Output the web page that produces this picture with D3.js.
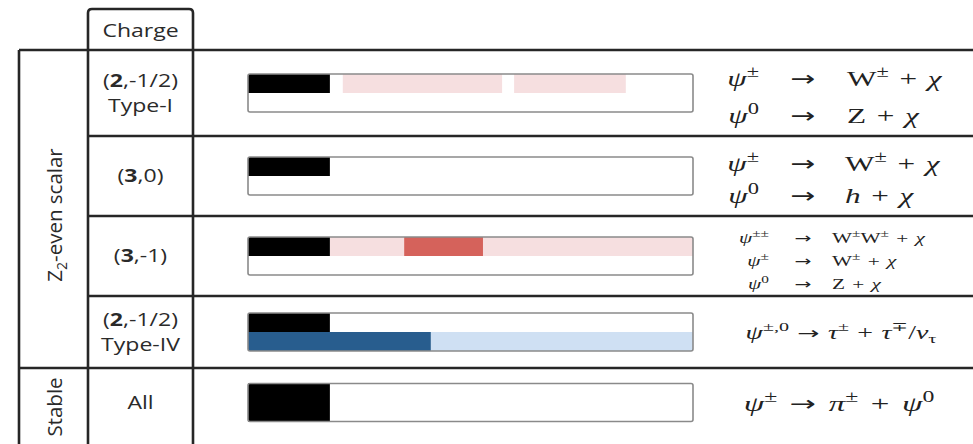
<!DOCTYPE html>
<html>
<head>
<meta charset="utf-8">
<script src="https://cdn.jsdelivr.net/npm/d3@7"></script>
<style>
  html, body { margin: 0; padding: 0; background: #fff; }
  svg { display: block; }
</style>
</head>
<body>
<svg id="chart" width="973" height="444"></svg>
<script>
// ---------------- DATA ----------------
const categories = ["(2,-1/2) Type-I", "(3,0)", "(3,-1)", "(2,-1/2) Type-IV", "All"];
const chargeLines = [
  [["(", "2", ",-1/2)"], ["", "", "Type-I"]],
  [["(", "3", ",0)"]],
  [["(", "3", ",-1)"]],
  [["(", "2", ",-1/2)"], ["", "", "Type-IV"]],
  [["", "", "All"]]
];
const groupNames = ["Z2-even scalar", "Stable"];
const groupFirstRow = [0, 4];
const groupLastRow = [3, 4];

// common lower limit (black bar), on a 0–100 scale
const lowerLimit = [18.4, 18.4, 18.4, 18.4, 18.4];
const lowerLane = ["top", "top", "top", "top", "full"];

// coloured exclusion segments
const segRow  = [0, 0, 2, 2, 3, 3];
const segLane = ["top", "top", "top", "top", "bottom", "bottom"];
const segFrom = [21.3, 59.8, 18.4, 35.1, 0, 41.1];
const segTo   = [57.1, 84.9, 100, 52.8, 41.1, 100];
const segKind = ["redWeak", "redWeak", "redWeak", "redStrong", "blueStrong", "blueWeak"];

// decay channels: per row, list of lines [lhsTokens, rhsTokens] (or single line)
const decays = [
  [[[["ψ","i"],["±","sup"]], [["W",""],["±","sup"],["+","op"],["χ","i"]]],
   [[["ψ","i"],["0","sup"]], [["Z",""],["+","op"],["χ","i"]]]],
  [[[["ψ","i"],["±","sup"]], [["W",""],["±","sup"],["+","op"],["χ","i"]]],
   [[["ψ","i"],["0","sup"]], [["h","i"],["+","op"],["χ","i"]]]],
  [[[["ψ","i"],["±±","sup"]], [["W",""],["±","sup"],["W",""],["±","sup"],["+","op"],["χ","i"]]],
   [[["ψ","i"],["±","sup"]], [["W",""],["±","sup"],["+","op"],["χ","i"]]],
   [[["ψ","i"],["0","sup"]], [["Z",""],["+","op"],["χ","i"]]]],
  [[[["ψ","i"],["±,0","sup"],["→","arrow"],["τ","i"],["±","sup"],["+","op"],["τ","i"],["∓","sup"],["/",""],["ν","i"],["τ","sub"]]]],
  [[[["ψ","i"],["±","sup"],["→","arrow"],["π","i"],["±","sup"],["+","op"],["ψ","i"],["0","sup"]]]]
];

// ---------------- LAYOUT ----------------
const W = 973, H = 444;
const colX = [19, 88, 193];
const rowEdges = [50, 136, 216, 296, 368, 437];
const headerTop = 9;
const barX0 = 248, barX1 = 693, barH = 38;
const lineColor = "#262626";
const colors = {
  redWeak: "#f6dfe0", redStrong: "#d5625b",
  blueStrong: "#285d8e", blueWeak: "#cfe0f3"
};

const svg = d3.select("#chart");

const x = d3.scaleLinear().domain([0, 100]).range([barX0, barX1]);
const rowCenter = d3.scaleOrdinal()
  .domain(categories)
  .range(categories.map((c, i) => (rowEdges[i] + rowEdges[i + 1]) / 2));

// ---------------- TABLE GRID ----------------
const grid = svg.append("g").attr("stroke", lineColor).attr("stroke-width", 2.6).attr("fill", "none");
const r = 4;
grid.append("path").attr("d",
  `M${colX[1]},${rowEdges[0]} V${headerTop + r} Q${colX[1]},${headerTop} ${colX[1] + r},${headerTop}
   H${colX[2] - r} Q${colX[2]},${headerTop} ${colX[2]},${headerTop + r} V${rowEdges[0]}`);
grid.append("line").attr("x1", colX[0]).attr("x2", W).attr("y1", rowEdges[0]).attr("y2", rowEdges[0]);
[1, 2, 3].forEach(i => grid.append("line").attr("x1", colX[1]).attr("x2", W).attr("y1", rowEdges[i]).attr("y2", rowEdges[i]));
grid.append("line").attr("x1", colX[0]).attr("x2", W).attr("y1", rowEdges[4]).attr("y2", rowEdges[4]);
colX.forEach(cx => grid.append("line").attr("x1", cx).attr("x2", cx).attr("y1", rowEdges[0]).attr("y2", H + 2));

// ---------------- LEFT TEXT ----------------
const sansFont = "'Open Sans', 'Liberation Sans', sans-serif";
const labX = (colX[1] + colX[2]) / 2;
const sxSans = 1.28;
const sansSize = 18;
svg.append("text")
  .attr("transform", `translate(${labX},${37}) scale(${sxSans},1)`)
  .attr("text-anchor", "middle").attr("font-family", sansFont).attr("font-size", sansSize)
  .attr("fill", "#2a2a2a").text("Charge");

chargeLines.forEach((lines, i) => {
  const cy = rowCenter(categories[i]);
  const n = lines.length;
  const lh = 25;
  lines.forEach((parts, j) => {
    const y = cy + (j - (n - 1) / 2) * lh + 6;
    const t = svg.append("text")
      .attr("transform", `translate(${labX},${y}) scale(${sxSans},1)`)
      .attr("text-anchor", "middle").attr("font-family", sansFont).attr("font-size", sansSize)
      .attr("fill", "#2a2a2a");
    t.append("tspan").text(parts[0]);
    t.append("tspan").attr("font-weight", 700).text(parts[1]);
    t.append("tspan").text(parts[2]);
  });
});

groupNames.forEach((g, k) => {
  const cy = k === 1 ? 407 : 215;
  const t = svg.append("text")
    .attr("transform", `translate(${62},${cy}) rotate(-90)`)
    .attr("text-anchor", "middle").attr("font-family", sansFont).attr("font-size", 20.5)
    .attr("fill", "#2a2a2a");
  if (g.startsWith("Z2")) {
    t.append("tspan").text("Z");
    t.append("tspan").attr("font-size", 14).attr("dy", 5).text("2");
    t.append("tspan").attr("dy", -5).text(g.slice(2));
  } else {
    t.text(g);
  }
});

// ---------------- BARS ----------------
const bars = svg.append("g");
function laneY(i, lane) {
  const top = rowCenter(categories[i]) - barH / 2;
  if (lane === "top") return [top, barH / 2];
  if (lane === "bottom") return [top + barH / 2, barH / 2];
  return [top, barH];
}
const segData = segRow.map((r, k) => ({ r, lane: segLane[k], from: segFrom[k], to: segTo[k], kind: segKind[k] }));
bars.selectAll("rect.seg").data(segData).join("rect")
  .attr("class", "seg")
  .attr("x", d => x(d.from)).attr("width", d => x(d.to) - x(d.from))
  .attr("y", d => laneY(d.r, d.lane)[0]).attr("height", d => laneY(d.r, d.lane)[1])
  .attr("fill", d => colors[d.kind]);
bars.selectAll("rect.low").data(categories).join("rect")
  .attr("class", "low")
  .attr("x", x(0)).attr("width", (d, i) => x(lowerLimit[i]) - x(0))
  .attr("y", (d, i) => laneY(i, lowerLane[i])[0]).attr("height", (d, i) => laneY(i, lowerLane[i])[1])
  .attr("fill", "#000");
bars.selectAll("rect.box").data(categories).join("rect")
  .attr("class", "box")
  .attr("x", x(0)).attr("width", x(100) - x(0))
  .attr("y", d => rowCenter(d) - barH / 2).attr("height", barH)
  .attr("rx", 2).attr("fill", "none").attr("stroke", "#8a8a8a").attr("stroke-width", 1.6);

// ---------------- DECAYS ----------------
const serif = "'Liberation Serif', 'DejaVu Serif', serif";
const arrowFont = "'DejaVu Sans', sans-serif";
function addTokens(text, tokens, fs, gap) {
  let shift = 0, pendingDx = 0;
  tokens.forEach(([t, s]) => {
    const target = s === "sup" ? -0.42 * fs : s === "sub" ? 0.22 * fs : 0;
    const ts = text.append("tspan").attr("dy", target - shift).text(t);
    shift = target;
    let dx = pendingDx; pendingDx = 0;
    if (s === "op") { dx += gap * fs; pendingDx = gap * fs; }
    if (s === "arrow") { dx += gap * fs; pendingDx = gap * fs; ts.attr("font-family", arrowFont).attr("font-size", fs * 0.95); }
    if (dx) ts.attr("dx", dx);
    if (s === "sup" || s === "sub") ts.attr("font-size", fs * 0.72);
    if (s === "i") ts.attr("font-style", "italic");
  });
}
const eqStyle = [
  { fs: 22, sx: 1.42, gap: 0.34, xL: 759, xA: 803, xR: 847, ys: [86, 123] },
  { fs: 22, sx: 1.42, gap: 0.34, xL: 759, xA: 803, xR: 845, ys: [171, 203] },
  { fs: 15, sx: 1.42, gap: 0.34, xL: 769, xA: 803, xR: 832, ys: [243, 266, 289] },
  { fs: 18, sx: 1.55, gap: 0.3, xC: 841, ys: [339] },
  { fs: 22, sx: 1.5, gap: 0.38, xC: 839, ys: [411] }
];
decays.forEach((lines, i) => {
  const st = eqStyle[i];
  lines.forEach((ln, j) => {
    const y = st.ys[j];
    const mk = (xx, anchor) => svg.append("text")
      .attr("transform", `translate(${xx},${y}) scale(${st.sx},1)`)
      .attr("text-anchor", anchor).attr("font-family", serif)
      .attr("font-size", st.fs).attr("fill", "#222");
    if (ln.length === 2) {
      addTokens(mk(st.xL, "end"), ln[0], st.fs, st.gap);
      mk(st.xA, "middle").attr("font-family", arrowFont).attr("font-size", st.fs * 0.95).text("→");
      addTokens(mk(st.xR, "start"), ln[1], st.fs, st.gap);
    } else {
      addTokens(mk(st.xC, "middle"), ln[0], st.fs, st.gap);
    }
  });
});
</script>
</body>
</html>
